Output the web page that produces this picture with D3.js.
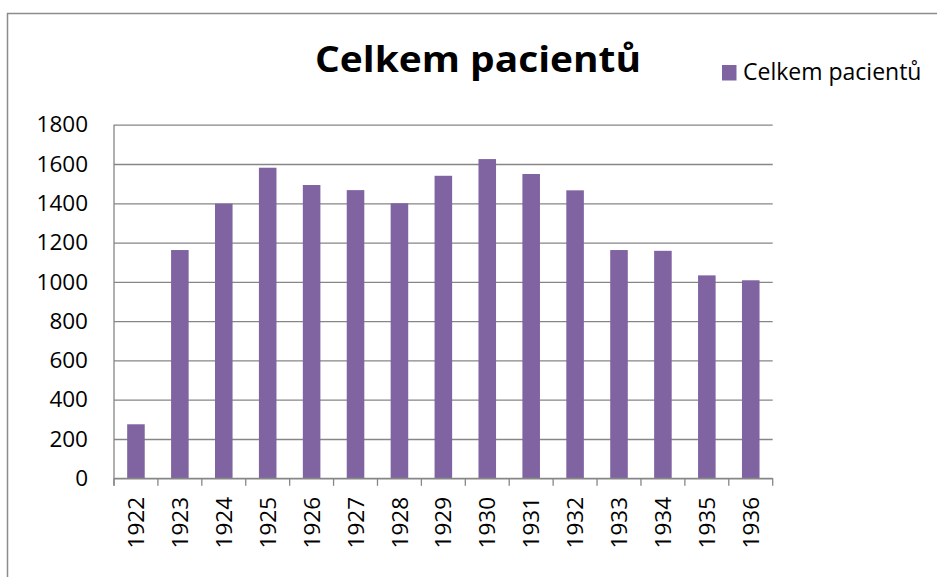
<!DOCTYPE html>
<html>
<head>
<meta charset="utf-8">
<script src="https://cdn.jsdelivr.net/npm/d3@7"></script>
<style>
  html, body { margin: 0; padding: 0; background: #fff; }
  svg { display: block; font-family: "Open Sans", "Noto Sans", sans-serif; }
</style>
</head>
<body>
<svg id="chart" width="937" height="577"></svg>
<script>
const years = ["1922", "1923", "1924", "1925", "1926", "1927", "1928", "1929",
  "1930", "1931", "1932", "1933", "1934", "1935", "1936"];
const patients = [275, 1162, 1398, 1581, 1493, 1467, 1400, 1540, 1625, 1549,
  1466, 1162, 1158, 1033, 1008];
const yTicks = [0, 200, 400, 600, 800, 1000, 1200, 1400, 1600, 1800];
const title = "Celkem pacientů";
const seriesName = "Celkem pacientů";

const svg = d3.select("#chart");
const gridColor = "#868686";
const barColor = "#8064a2";

// outer chart frame (only left and top edges visible)
svg.append("path")
  .attr("d", "M7.5,577V13.5H937")
  .attr("fill", "none")
  .attr("stroke", "#8c8c8c")
  .attr("stroke-width", 1.5);

const plotLeft = 114, plotRight = 772.7, plotTop = 124.7, plotBottom = 478.3;

const x = d3.scaleBand().domain(years).range([plotLeft, plotRight]).padding(0);
const y = d3.scaleLinear().domain([0, 1800]).range([plotBottom, plotTop]);

// gridlines + y labels
const yAxis = svg.append("g")
  .attr("transform", "translate(" + plotLeft + ",0)")
  .call(d3.axisLeft(y).tickValues(yTicks).tickFormat(d3.format("d")).tickSize(8).tickPadding(18));
yAxis.select(".domain").remove();
yAxis.selectAll(".tick line")
  .attr("x2", plotRight - plotLeft)
  .attr("stroke", gridColor)
  .attr("stroke-width", 1.3);
yAxis.selectAll(".tick text")
  .attr("font-size", 22.5)
  .attr("fill", "#000")
  .attr("font-family", "'Open Sans', sans-serif");

// y axis line
svg.append("line")
  .attr("x1", plotLeft).attr("x2", plotLeft)
  .attr("y1", plotTop).attr("y2", plotBottom + 7.5)
  .attr("stroke", gridColor).attr("stroke-width", 1.3);

// bars
const barW = x.step() / 2.5;
svg.append("g")
  .selectAll("rect")
  .data(patients)
  .enter()
  .append("rect")
  .attr("x", (d, i) => x(years[i]) + (x.bandwidth() - barW) / 2)
  .attr("width", barW)
  .attr("y", (d) => y(d))
  .attr("height", (d) => plotBottom - y(d))
  .attr("fill", barColor);

// x axis with ticks at band boundaries
svg.append("line")
  .attr("x1", plotLeft).attr("x2", plotRight)
  .attr("y1", plotBottom).attr("y2", plotBottom)
  .attr("stroke", gridColor).attr("stroke-width", 1.3);
const bounds = years.map((d) => x(d)).concat([plotRight]);
svg.append("g")
  .selectAll("line")
  .data(bounds)
  .enter()
  .append("line")
  .attr("x1", (d) => d).attr("x2", (d) => d)
  .attr("y1", plotBottom).attr("y2", plotBottom + 7.5)
  .attr("stroke", gridColor).attr("stroke-width", 1.3);

// rotated year labels
svg.append("g")
  .selectAll("text")
  .data(years)
  .enter()
  .append("text")
  .attr("transform", (d) => "translate(" + (x(d) + x.bandwidth() / 2) + ",497) rotate(-90)")
  .attr("text-anchor", "end")
  .attr("dy", "0.36em")
  .attr("font-size", 22.5)
  .attr("fill", "#000")
  .text((d) => d);

// title
svg.append("text")
  .attr("x", 315)
  .attr("y", 72)
  .attr("font-size", 36)
  .attr("font-weight", "bold")
  .attr("fill", "#000")
  .attr("textLength", 326)
  .attr("lengthAdjust", "spacingAndGlyphs")
  .text(title);

// legend
svg.append("rect")
  .attr("x", 722).attr("y", 65)
  .attr("width", 14.5).attr("height", 15.5)
  .attr("fill", barColor);
svg.append("text")
  .attr("x", 743)
  .attr("y", 79.5)
  .attr("font-size", 23)
  .attr("fill", "#000")
  .text(seriesName);
</script>
</body>
</html>
